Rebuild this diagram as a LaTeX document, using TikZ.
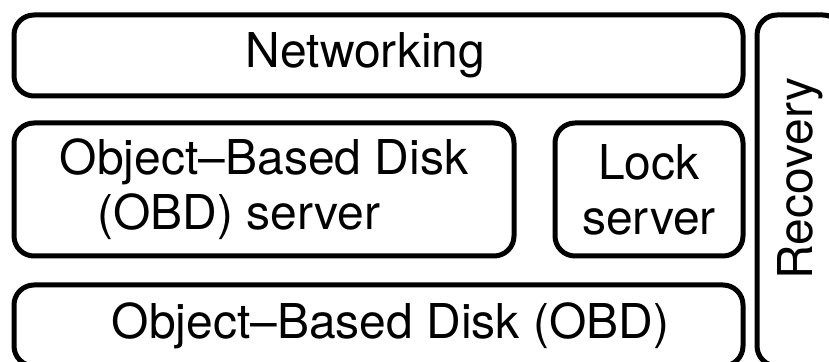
\documentclass[tikz,border=0pt]{standalone}
\usepackage{fontspec}
\setmainfont{TeX Gyre Heros}
\usepackage{tikz}
\usetikzlibrary{positioning}

\begin{document}
\begin{tikzpicture}[
x=0.5pt, y=-0.5pt,
every node/.style={font=\fontsize{24}{27.5}\selectfont},
layer/.style={
draw,
line width=2.5pt,
rounded corners=10pt,
outer sep=0pt,
inner sep=0pt,
align=center
}
]
\useasboundingbox (0,0) rectangle (829,362);
\clip (0,0) rectangle (829,362);

% Layers
\node[layer, minimum width=364.5pt, minimum height=40.5pt] (net) at (378.5,55.5) {Networking\hspace*{13pt}};

\node[layer, minimum width=250pt, minimum height=66.5pt,
below right=13.5pt and 0pt of net.south west] (obdserver) {
Object--Based Disk\\
(OBD) server\hspace*{25pt}
};

\node[layer, minimum width=94pt, minimum height=66.5pt,
right=20.5pt of obdserver] (lock) {
Lock\\
server
};

\node[layer, minimum width=364.5pt, minimum height=40.5pt,
below right=14.5pt and 0pt of obdserver.south west] (obd) {\hspace*{12pt}Object--Based Disk (OBD)};

% Side column
\node[layer, minimum width=43pt, minimum height=175.5pt,
below right=0pt and 7pt of net.north east] (recovery) {\rotatebox{90}{\hspace*{12pt}Recovery}};

\end{tikzpicture}
\end{document}
